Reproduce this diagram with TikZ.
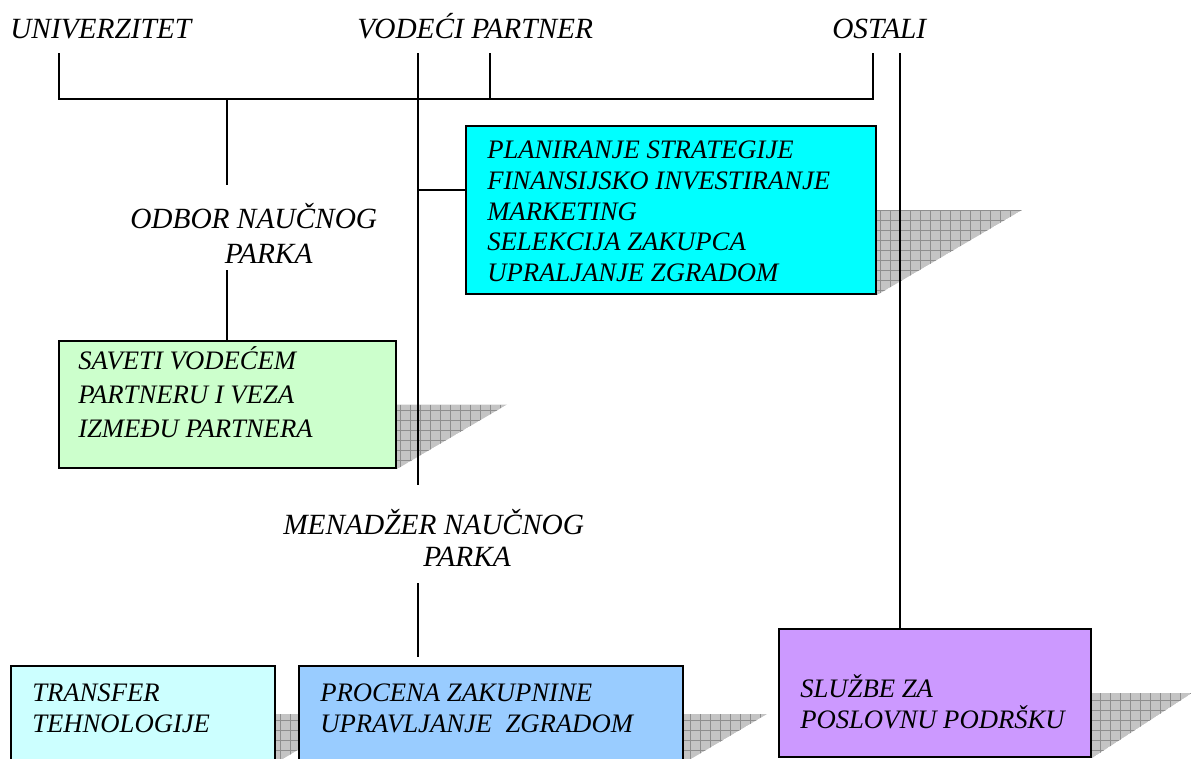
\documentclass[tikz,border=0pt]{standalone}
\usepackage{fontspec}
\setmainfont{Liberation Serif}
\usepackage{tikz}
\usetikzlibrary{positioning}

\definecolor{cyanbox}{HTML}{00FFFF}
\definecolor{greenbox}{HTML}{CCFFCC}
\definecolor{tealbox}{HTML}{CCFFFF}
\definecolor{bluebox}{HTML}{99CCFF}
\definecolor{violetbox}{HTML}{CC99FF}
\definecolor{shadegray}{HTML}{C4C4C4}
\definecolor{shadeline}{HTML}{8E8E8E}

\tikzset{
  lbl/.style={font=\fontsize{20}{22}\selectfont\itshape, inner sep=0pt, align=left},
  biglbl/.style={lbl, font=\fontsize{22}{26}\selectfont\itshape},
  orgbox/.style={draw, line width=1.5pt, anchor=north west, inner sep=0pt},
  orgline/.style={line width=1.5pt},
}

% grey hatched drop shadow to the right of a box
\newcommand{\boxshade}[2]{%
  \path (#1.east) ++(#2,0) coordinate (#1sh);
  \begin{scope}
    \clip (#1.east) -- (#1sh) -- (#1.south east) -- cycle;
    \fill[shadegray] (#1.east) -- (#1sh) -- (#1.south east) -- cycle;
    \draw[shadeline, line width=0.6pt, step=10] (#1.south east) grid (#1sh);
  \end{scope}}

\begin{document}
\begin{tikzpicture}[x=0.75pt,y=0.75pt,yscale=-1,xscale=1]
\useasboundingbox (0,0) rectangle (1191,758);

% boxes, left to right, each shadow behind the next box
\node (transfer) [orgbox, fill=tealbox, minimum width=198pt, minimum height=72pt] at (10,665) {};
\boxshade{transfer}{82}
\node (procena) [orgbox, fill=bluebox, minimum width=288pt, minimum height=72pt] at (298,665) {};
\boxshade{procena}{83}
\node (saveti) [orgbox, fill=greenbox, minimum width=252.75pt, minimum height=95.25pt] at (58,340) {};
\boxshade{saveti}{110}
\node (plan) [orgbox, fill=cyanbox, minimum width=307.5pt, minimum height=126pt] at (465,125) {};
\boxshade{plan}{145}
\node (sluzbe) [orgbox, fill=violetbox, minimum width=234pt, minimum height=96pt] at (778,628) {};
\boxshade{sluzbe}{100}

% connectors
\coordinate (univtop) at (59,53);
\coordinate (univbar) at (59,99);
\coordinate (ostbar) at (873,99);
\coordinate (osttop) at (873,53);
\draw[orgline] (univtop) -- (univbar) -- (ostbar) -- (osttop);
\coordinate (vptop) at (490,53);
\draw[orgline] (vptop) -- (vptop |- univbar);
\coordinate (maintop) at (418,53);
\coordinate (mainend) at (418,485);
\draw[orgline] (maintop) -- (mainend);
\coordinate (planjoin) at (418,190);
\draw[orgline] (planjoin) -- (planjoin -| plan.west);
\coordinate (odbtop) at (227,99);
\coordinate (odbend) at (227,185);
\draw[orgline] (odbtop) -- (odbend);
\coordinate (odbout) at (227,270);
\draw[orgline] (odbout) -- (odbout |- saveti.north);
\coordinate (mentop) at (418,583);
\coordinate (menend) at (418,657);
\draw[orgline] (mentop) -- (menend);
\coordinate (sltop) at (900,53);
\draw[orgline] (sltop) -- (sltop |- sluzbe.north);

% Text Node
\draw (10,38) node (univ) [anchor=base west][biglbl] {UNIVERZITET};
% Text Node
\draw (357,38) node (vodeci) [anchor=base west][biglbl] {VODEĆI PARTNER};
% Text Node
\draw (832,38) node (ostali) [anchor=base west][biglbl] {OSTALI};
% Text Node
\draw (130,203) node (odbor) [anchor=north west][biglbl] {ODBOR NAUČNOG\\\hspace*{71pt}PARKA};
% Text Node
\draw (283,509) node (menadzer) [anchor=north west][biglbl, font=\fontsize{22}{24}\selectfont\itshape] {MENADŽER NAUČNOG\\\hspace*{105pt}PARKA};
% Text Node
\draw ([shift={(22,16)}]plan.north west) node (plantxt) [anchor=north west][lbl, font=\fontsize{20}{23}\selectfont\itshape] {PLANIRANJE STRATEGIJE\\FINANSIJSKO INVESTIRANJE\\MARKETING\\SELEKCIJA ZAKUPCA\\UPRALJANJE ZGRADOM};
% Text Node
\draw ([shift={(20,6)}]saveti.north west) node (savetitxt) [anchor=north west][lbl, font=\fontsize{20}{25.5}\selectfont\itshape] {SAVETI VODEĆEM\\PARTNERU I VEZA\\IZMEĐU PARTNERA};
% Text Node
\draw ([shift={(22,19)}]transfer.north west) node (transfertxt) [anchor=north west][lbl, font=\fontsize{20}{23}\selectfont\itshape] {TRANSFER\\TEHNOLOGIJE};
% Text Node
\draw ([shift={(22,19)}]procena.north west) node (procenatxt) [anchor=north west][lbl, font=\fontsize{20}{23}\selectfont\itshape] {PROCENA ZAKUPNINE\\UPRAVLJANJE\ \ ZGRADOM};
% Text Node
\draw ([shift={(22,46)}]sluzbe.north west) node (sluzbetxt) [anchor=north west][lbl, font=\fontsize{20}{23.5}\selectfont\itshape] {SLUŽBE ZA\\POSLOVNU PODRŠKU};

\end{tikzpicture}
\end{document}
